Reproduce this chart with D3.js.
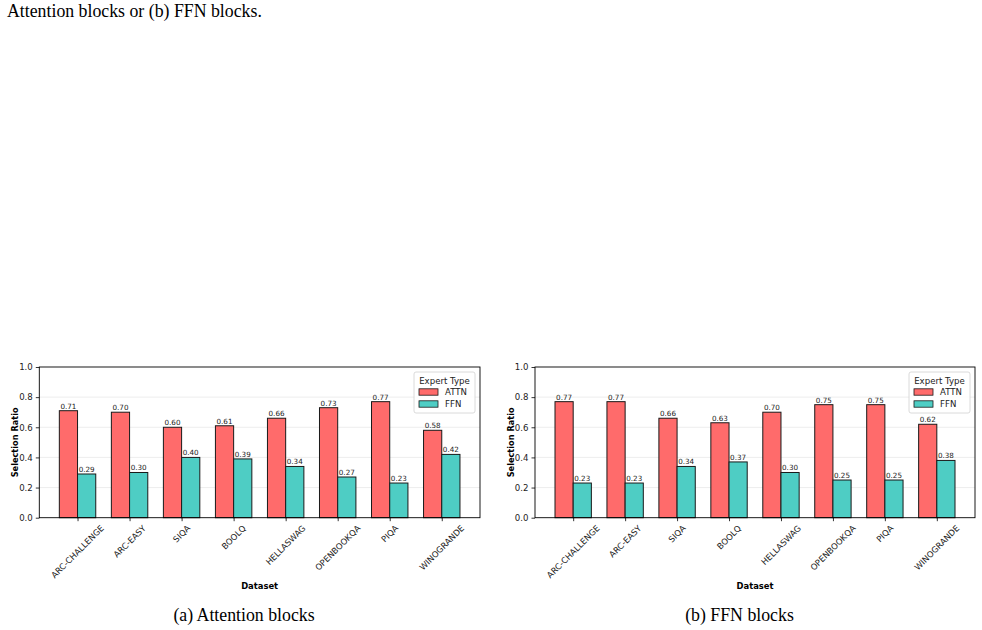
<!DOCTYPE html>
<html>
<head>
<meta charset="utf-8">
<script src="https://cdn.jsdelivr.net/npm/d3@7"></script>
<style>
body { margin: 0; background: #fff; }
svg { display: block; }
</style>
</head>
<body>
<svg id="chart" width="982" height="630"></svg>
<script>
const categories = ["ARC-CHALLENGE", "ARC-EASY", "SIQA", "BOOLQ", "HELLASWAG", "OPENBOOKQA", "PIQA", "WINOGRANDE"];
const seriesNames = ["ATTN", "FFN"];
const attnBlocksATTN = [0.71, 0.70, 0.60, 0.61, 0.66, 0.73, 0.77, 0.58];
const attnBlocksFFN  = [0.29, 0.30, 0.40, 0.39, 0.34, 0.27, 0.23, 0.42];
const ffnBlocksATTN  = [0.77, 0.77, 0.66, 0.63, 0.70, 0.75, 0.75, 0.62];
const ffnBlocksFFN   = [0.23, 0.23, 0.34, 0.37, 0.30, 0.25, 0.25, 0.38];
const yTicks = [0.0, 0.2, 0.4, 0.6, 0.8, 1.0];
const captions = ["(a) Attention blocks", "(b) FFN blocks"];
const colors = ["#FF6B6B", "#4ECDC4"];

const svg = d3.select("#chart");
const sans = "DejaVu Sans, sans-serif";
const serif = "Liberation Serif, Times New Roman, serif";

svg.append("text").attr("x", 7).attr("y", 17)
  .attr("font-family", serif).attr("font-size", 17.8).attr("fill", "#000")
  .text("Attention blocks or (b) FFN blocks.");

function panel(left, right, attn, ffn, caption, capX) {
  const top = 367, bottom = 517.7;
  const barW = 0.35;
  const x = d3.scaleLinear().domain([-0.735, 7.735]).range([left, right]);
  const y = d3.scaleLinear().domain([0, 1]).range([bottom, top]);
  const g = svg.append("g");
  // grid
  g.selectAll(".grid").data(yTicks.slice(1, -1)).join("line")
    .attr("x1", left).attr("x2", right)
    .attr("y1", d => y(d)).attr("y2", d => y(d))
    .attr("stroke", "#e8e8e8").attr("stroke-width", 0.8);
  const series = [attn, ffn];
  series.forEach((vals, si) => {
    const off = si === 0 ? -barW : 0;
    g.selectAll(".bar" + si).data(vals).join("rect")
      .attr("x", (d, i) => x(i + off))
      .attr("y", d => y(d))
      .attr("width", (d, i) => x(i + off + barW) - x(i + off))
      .attr("height", d => y(0) - y(d))
      .attr("fill", colors[si])
      .attr("stroke", "#1a1a1a").attr("stroke-width", 1);
    g.selectAll(".lab" + si).data(vals).join("text")
      .attr("x", (d, i) => x(i + off + barW / 2))
      .attr("y", d => y(d) - 2)
      .attr("text-anchor", "middle")
      .attr("font-family", sans).attr("font-size", 7.2).attr("fill", "#222")
      .text(d => d.toFixed(2));
  });
  // frame
  g.append("rect").attr("x", left).attr("y", top).attr("width", right - left).attr("height", bottom - top)
    .attr("fill", "none").attr("stroke", "#000").attr("stroke-width", 0.9);
  // y axis
  const yAxis = d3.axisLeft(y).tickValues(yTicks).tickFormat(d3.format(".1f")).tickSize(3.5).tickPadding(3);
  const ya = g.append("g").attr("transform", `translate(${left},0)`).call(yAxis);
  ya.select(".domain").remove();
  ya.selectAll("text").attr("font-family", sans).attr("font-size", 8.6).attr("fill", "#222");
  ya.selectAll("line").attr("stroke", "#000").attr("stroke-width", 0.8);
  // x axis
  const xAxis = d3.axisBottom(x).tickValues(d3.range(categories.length)).tickFormat("").tickSize(3.5);
  const xa = g.append("g").attr("transform", `translate(0,${bottom})`).call(xAxis);
  xa.select(".domain").remove();
  xa.selectAll("line").attr("stroke", "#000").attr("stroke-width", 0.8);
  const fs = 8.4;
  categories.forEach((c, i) => {
    const t = g.append("text")
      .attr("font-family", sans).attr("font-size", fs).attr("fill", "#222")
      .attr("text-anchor", "middle").attr("dominant-baseline", "central")
      .text(c);
    const L = t.node().getComputedTextLength();
    const h = fs * 1.0;
    const bh = (L + h) * Math.SQRT1_2;
    const cx = x(i), cy = bottom + 6 + bh / 2;
    t.attr("transform", `translate(${cx},${cy}) rotate(-45)`);
  });
  // axis labels
  g.append("text").attr("x", (left + right) / 2).attr("y", 589)
    .attr("text-anchor", "middle").attr("font-family", sans).attr("font-weight", "bold")
    .attr("font-size", 8.4).attr("fill", "#000").text("Dataset");
  g.append("text").attr("transform", `translate(${left - 24.5},${(top + bottom) / 2}) rotate(-90)`)
    .attr("text-anchor", "middle").attr("dominant-baseline", "central").attr("font-family", sans).attr("font-weight", "bold")
    .attr("font-size", 8.2).attr("fill", "#000").text("Selection Ratio");
  // legend
  const lx = right - 66, ly = 372, lw = 61, lh = 41;
  const lg = g.append("g");
  lg.append("rect").attr("x", lx).attr("y", ly).attr("width", lw).attr("height", lh)
    .attr("rx", 2).attr("fill", "#fff").attr("fill-opacity", 0.85).attr("stroke", "#d0d0d0").attr("stroke-width", 0.8);
  lg.append("text").attr("x", lx + lw / 2).attr("y", ly + 9).attr("text-anchor", "middle")
    .attr("dominant-baseline", "central").attr("font-family", sans).attr("font-size", 8.6).attr("fill", "#222").text("Expert Type");
  seriesNames.forEach((s, i) => {
    const ry = ly + 20 + i * 12;
    lg.append("rect").attr("x", lx + 5).attr("y", ry - 3.2).attr("width", 19).attr("height", 6.4)
      .attr("fill", colors[i]).attr("stroke", "#1a1a1a").attr("stroke-width", 0.8);
    lg.append("text").attr("x", lx + 31).attr("y", ry).attr("dominant-baseline", "central")
      .attr("font-family", sans).attr("font-size", 8.6).attr("fill", "#222").text(s);
  });
  // caption
  svg.append("text").attr("x", capX).attr("y", 621).attr("text-anchor", "middle")
    .attr("font-family", serif).attr("font-size", 17.8).attr("fill", "#000").text(caption);
}

panel(39.3, 480, attnBlocksATTN, attnBlocksFFN, captions[0], 244);
panel(535, 975, ffnBlocksATTN, ffnBlocksFFN, captions[1], 739.5);
</script>
</body>
</html>
